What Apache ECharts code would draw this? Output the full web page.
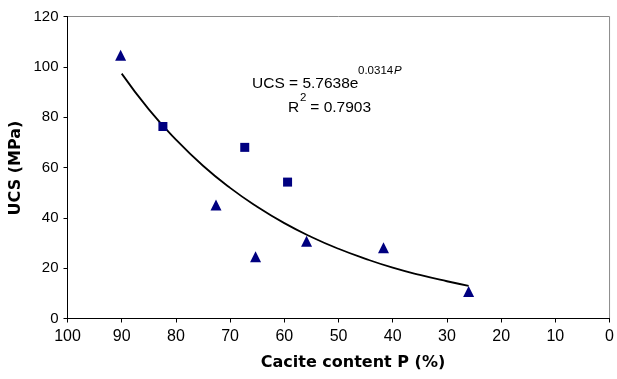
<!DOCTYPE html>
<html><head><meta charset="utf-8">
<script src="https://cdn.jsdelivr.net/npm/echarts@6/dist/echarts.min.js"></script>
<style>html,body{margin:0;padding:0;background:#fff;}#c{width:617px;height:379px;}</style>
</head><body><div id="c"></div>
<script>
const xTickLabels = ['0','10','20','30','40','50','60','70','80','90','100'];
const yTickLabels = ['0','20','40','60','80','100','120'];
const triangleP   = [90.2, 72.6, 65.3, 55.9, 41.7, 26.0];
const triangleUCS = [104.6, 45.1, 24.5, 30.7, 28.1, 10.7];
const squareP     = [82.4, 67.3, 59.4];
const squareUCS   = [76.3, 68.0, 54.2];
const trendP   = [90, 85, 80, 75, 70, 65, 60, 55, 50, 45, 40, 35, 30, 26];
const trendUCS = [97.3, 83.1, 71.1, 60.7, 51.9, 44.4, 37.9, 32.4, 27.7, 23.7, 20.2, 17.3, 14.8, 13.0];
const xTitle = 'Cacite content P (%)';
const yTitle = 'UCS (MPa)';

const zip = (a, b) => a.map((v, i) => [v, b[i]]);
const navy = '#000080';
const tickFont = 'Liberation Sans, Arial, sans-serif';

const chart = echarts.init(document.getElementById('c'), null, {renderer: 'canvas'});
chart.setOption({
  animation: false,
  backgroundColor: '#fff',
  grid: {left: 67.5, right: 6, top: 16.5, bottom: 60.5, show: true, borderColor: '#8a8a8a', borderWidth: 1},
  xAxis: {
    type: 'value', min: 0, max: 100, interval: 10, inverse: true,
    axisLine: {show: true, onZero: false, lineStyle: {color: '#000', width: 1}},
    axisTick: {show: true, length: 4, lineStyle: {color: '#000'}},
    splitLine: {show: false},
    axisLabel: {margin: 10, color: '#000', fontSize: 16, fontFamily: tickFont,
      formatter: v => xTickLabels[Math.round(v / 10)]}
  },
  yAxis: {
    type: 'value', min: 0, max: 120, interval: 20,
    axisLine: {show: true, onZero: false, lineStyle: {color: '#000', width: 1}},
    axisTick: {show: true, length: 4, lineStyle: {color: '#000'}},
    splitLine: {show: false},
    axisLabel: {margin: 9, color: '#000', fontSize: 15, fontFamily: tickFont,
      formatter: v => yTickLabels[Math.round(v / 20)]}
  },
  series: [
    {type: 'line', data: zip(trendP, trendUCS), smooth: true, showSymbol: false, symbol: 'none',
     lineStyle: {color: '#000', width: 1.8}, z: 2},
    {type: 'scatter', data: zip(triangleP, triangleUCS), symbol: 'triangle', symbolSize: 11,
     itemStyle: {color: navy, opacity: 1}, z: 3},
    {type: 'scatter', data: zip(squareP, squareUCS), symbol: 'rect', symbolSize: 9,
     itemStyle: {color: navy, opacity: 1}, z: 3}
  ],
  graphic: [
    {type: 'text', x: 353, y: 363, style: {text: xTitle, font: 'bold 16px DejaVu Sans, sans-serif', fill: '#000', align: 'center', verticalAlign: 'middle'}},
    {type: 'text', x: 16, y: 168, rotation: Math.PI / 2, style: {text: yTitle, font: 'bold 16px DejaVu Sans, sans-serif', fill: '#000', align: 'center', verticalAlign: 'middle'}},
    {type: 'text', x: 252, y: 84, style: {text: 'UCS = 5.7638e', font: '15.5px Liberation Sans, Arial, sans-serif', fill: '#000', align: 'left', verticalAlign: 'middle'}},
    {type: 'text', x: 358, y: 71, style: {text: '0.0314', font: '11.5px Liberation Sans, Arial, sans-serif', fill: '#000', align: 'left', verticalAlign: 'middle'}},
    {type: 'text', x: 394, y: 71, style: {text: 'P', font: 'italic 11.5px Liberation Sans, Arial, sans-serif', fill: '#000', align: 'left', verticalAlign: 'middle'}},
    {type: 'text', x: 288, y: 108, style: {text: 'R', font: '15.5px Liberation Sans, Arial, sans-serif', fill: '#000', align: 'left', verticalAlign: 'middle'}},
    {type: 'text', x: 300, y: 98, style: {text: '2', font: '11.5px Liberation Sans, Arial, sans-serif', fill: '#000', align: 'left', verticalAlign: 'middle'}},
    {type: 'text', x: 306, y: 108, style: {text: ' = 0.7903', font: '15.5px Liberation Sans, Arial, sans-serif', fill: '#000', align: 'left', verticalAlign: 'middle'}}
  ]
});
</script></body></html>
